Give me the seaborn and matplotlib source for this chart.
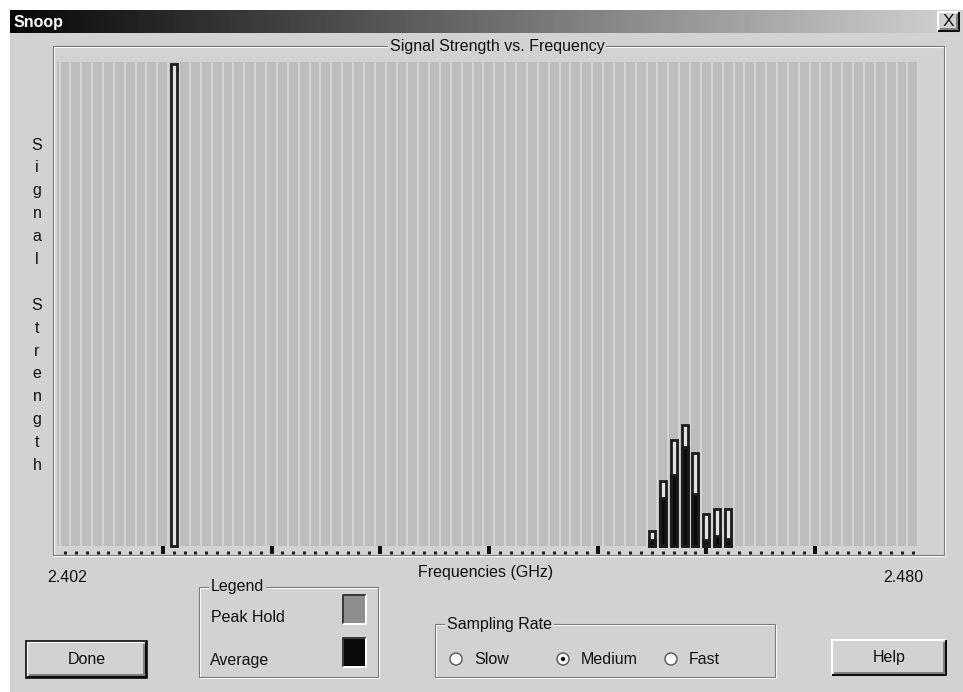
import numpy as np
import pandas as pd
import seaborn as sns
import matplotlib.pyplot as plt
from matplotlib.patches import Rectangle, Circle

# Data: 79 channels, 2.402 .. 2.480 GHz in 1 MHz steps
channels = list(range(79))
peak_channels = [10, 54, 55, 56, 57, 58, 59, 60, 61]
peak_hold = [99.5, 3.0, 13.5, 22.0, 25.0, 19.2, 6.6, 7.6, 7.6]
avg_channels = [54, 55, 56, 57, 58, 59, 60, 61]
average = [1.2, 10.0, 14.6, 20.5, 10.8, 1.2, 2.1, 1.4]
major_ticks = [9, 19, 29, 39, 49, 59, 69]
freq_labels = ['2.402', '2.480']
legend_items = ['Peak Hold', 'Average']
sampling_rates = ['Slow', 'Medium', 'Fast']
selected_rate = 'Medium'

W, H = 963, 692
DLG = '#d2d2d2'
FS = 11.5
TXT = '#111111'

sns.set_style('white')
plt.rcParams['font.family'] = ['Liberation Sans', 'DejaVu Sans']

fig = plt.figure(figsize=(W / 100, H / 100), dpi=100, facecolor='white')
bg = fig.add_axes([0, 0, 1, 1])
bg.axis('off')


def frac(x0, y0, x1, y1):
    return [x0 / W, 1 - y1 / H, (x1 - x0) / W, (y1 - y0) / H]


def line(xs, ys, c, lw=1.0):
    bg.plot(xs, ys, color=c, lw=lw * 0.72, solid_capstyle='butt', zorder=3)


def etched(x0, y0, x1, y1, title=None, tx=None, ha='left'):
    bg.add_patch(Rectangle((x0 + 1, y0 + 1), x1 - x0, y1 - y0, fill=False, ec='white', lw=0.8, zorder=2))
    bg.add_patch(Rectangle((x0, y0), x1 - x0, y1 - y0, fill=False, ec='#7a7a7a', lw=0.8, zorder=2))
    if title:
        bg.text(tx, y0, title, ha=ha, va='center', fontsize=FS, color=TXT, zorder=4,
                bbox=dict(facecolor=DLG, edgecolor='none', pad=1.5))


def raised(x0, y0, x1, y1, label, default=False, fs=FS):
    bg.add_patch(Rectangle((x0, y0), x1 - x0, y1 - y0, facecolor=DLG, edgecolor='none', zorder=2))
    line([x0, x0, x1], [y1, y0, y0], 'white', 2)
    line([x0 + 2, x1 - 2, x1 - 2], [y1 - 2, y1 - 2, y0 + 2], '#808080', 2)
    line([x0, x1, x1], [y1, y1, y0], '#0c0c0c', 2)
    if default:
        bg.add_patch(Rectangle((x0 - 1, y0 - 1), x1 - x0 + 2, y1 - y0 + 2, fill=False,
                               ec='#0c0c0c', lw=1.2, zorder=3))
    bg.text((x0 + x1) / 2, (y0 + y1) / 2, label, ha='center', va='center', fontsize=fs,
            color=TXT, zorder=4)


# window body and title bar
bg.add_patch(Rectangle((10, 10), W - 10, H - 10, facecolor=DLG, edgecolor='none', zorder=1))
grad = np.linspace(0.03, 0.82, 256)[None, :]
bg.imshow(grad, cmap='gray', vmin=0, vmax=1, extent=(10, W, 33, 10), aspect='auto', zorder=2)
bg.text(14, 22, 'Snoop', color='white', fontsize=FS, fontweight='bold', va='center', ha='left',
        zorder=4)
raised(938, 12, 959, 31, 'X', fs=FS + 1)
bg.set_xlim(0, W)
bg.set_ylim(H, 0)

# chart group box
etched(53, 46, 944, 555, 'Signal Strength vs. Frequency', 497, ha='center')
for i, ch in enumerate('Signal Strength'):
    bg.text(37, 145 + 22.9 * i, ch, ha='center', va='center', fontsize=FS, color=TXT)
bg.text(67, 578, freq_labels[0], ha='center', va='center', fontsize=FS, color=TXT)
bg.text(903, 578, freq_labels[1], ha='center', va='center', fontsize=FS, color=TXT)
bg.text(486, 573, 'Frequencies (GHz)', ha='center', va='center', fontsize=FS, color=TXT)

# legend group
etched(199, 587, 378, 677, 'Legend', 211)
bg.text(211, 617, legend_items[0], ha='left', va='center', fontsize=FS, color=TXT)
bg.text(210, 660, legend_items[1], ha='left', va='center', fontsize=FS, color=TXT)
for (y0, fc) in [(595, '#8e8e8e'), (638, '#0a0a0a')]:
    bg.add_patch(Rectangle((343, y0), 23, 29, facecolor=fc, edgecolor='none', zorder=2))
    line([343, 343, 366], [y0 + 29, y0, y0], '#3a3a3a', 2)
    line([343, 366, 366], [y0 + 29, y0 + 29, y0], 'white', 2)

# sampling rate group
etched(435, 624, 775, 677, 'Sampling Rate', 447)
for cx, name in zip([456, 563, 671], sampling_rates):
    bg.add_patch(Circle((cx, 659), 6, facecolor='white', edgecolor='#555555', lw=1.0, zorder=3))
    if name == selected_rate:
        bg.add_patch(Circle((cx, 659), 2.2, facecolor='#111111', edgecolor='none', zorder=4))
    bg.text(cx + 18, 659, name, ha='left', va='center', fontsize=FS, color=TXT)

raised(27, 642, 146, 677, 'Done', default=True)
raised(832, 640, 946, 675, 'Help')

# the spectrum chart
ax = fig.add_axes(frac(56.7, 62, 918.3, 553.5))
ax.set_facecolor('none')
ax.axhspan(0, 100, color='#bdbdbd', zorder=0, lw=0)
ax.vlines(np.array(channels + [79]) - 0.5, 0, 100, color='#d9d9d9', lw=1.2, zorder=1)

peak_df = pd.DataFrame({'channel': peak_channels, 'strength': peak_hold})
avg_df = pd.DataFrame({'channel': avg_channels, 'strength': average})
sns.barplot(data=peak_df, x='channel', y='strength', order=channels, color='#e2e2e2',
            saturation=1, width=0.56, edgecolor='#1c1c1c', linewidth=2.0,
            errorbar=None, ax=ax, zorder=3)
sns.barplot(data=avg_df, x='channel', y='strength', order=channels, color='#0a0a0a',
            saturation=1, width=0.56, edgecolor='#1c1c1c', linewidth=2.0,
            errorbar=None, ax=ax, zorder=4)

ax.set_xlim(-0.76, 78.5)
ax.set_ylim(-(553.5 - 546) / 4.84, 100)
ax.set_xlabel('')
ax.set_ylabel('')
ax.set_yticks([])
ax.set_xticks(major_ticks)
ax.set_xticks([c for c in channels if c not in major_ticks], minor=True)
ax.tick_params(axis='x', which='major', direction='in', length=5.8, width=2.9,
               color='#101010', labelbottom=False, bottom=True)
ax.tick_params(axis='x', which='minor', direction='in', length=2.2, width=2.2,
               color='#202020', bottom=True)
for s in ax.spines.values():
    s.set_visible(False)

fig.savefig('out.png', dpi=100, facecolor='white')
